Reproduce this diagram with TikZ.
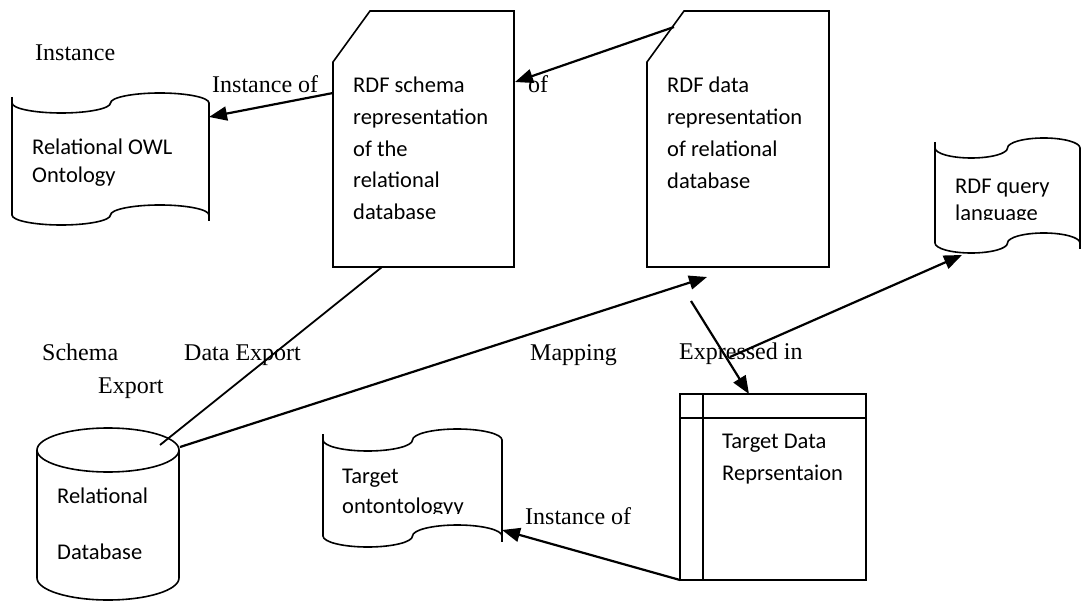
\documentclass[tikz,border=0pt]{standalone}
\usepackage{fontspec}
\setmainfont{Liberation Serif}
\newfontfamily\boxfont{Carlito}
\usetikzlibrary{arrows.meta}
\tikzset{
  shapeline/.style={line width=1.6pt, line join=miter},
  conn/.style={line width=2.2pt, -{Triangle[length=18pt,width=14pt]}},
  plainconn/.style={line width=1.8pt},
  btxt/.style={font=\boxfont\fontsize{22.5}{27}\selectfont, anchor=base west, inner sep=0pt},
  lbl/.style={font=\fontsize{24}{28}\selectfont, anchor=base west, inner sep=0pt},
}
% x0, width, top mid, bottom mid, amplitude (pixel units, y downward)
\newcommand\tapeoutline[5]{%
  \draw[shapeline] (#1,-#3)
    arc[start angle=180,end angle=360,x radius=#2/4,y radius=#5]
    arc[start angle=180,end angle=0,x radius=#2/4,y radius=#5]
    -- (#1+#2,-#4)
    arc[start angle=0,end angle=180,x radius=#2/4,y radius=#5]
    arc[start angle=0,end angle=-180,x radius=#2/4,y radius=#5]
    -- cycle;
  \draw[shapeline] (#1,-#3+6) -- (#1,-#3);
  \draw[shapeline] (#1+#2,-#4) -- (#1+#2,-#4-6);}
\begin{document}
\begin{tikzpicture}[x=1pt,y=1pt]
\useasboundingbox (0,0) rectangle (1083,-601);

% ---- shapes ----
\tapeoutline{12}{197}{103}{215}{10}      % Relational OWL Ontology
\tapeoutline{935}{145}{148}{243}{10}     % RDF query language
\tapeoutline{323}{179}{440}{536}{11}     % Target ontology
% RDF schema document
\draw[shapeline] (333,-267) -- (333,-62) -- (370,-11) -- (514,-11) -- (514,-267) -- cycle;
% RDF data document
\draw[shapeline] (647,-267) -- (647,-62) -- (684,-11) -- (829,-11) -- (829,-267) -- cycle;
% Target data representation (table)
\draw[shapeline] (680,-394) rectangle (866,-580);
\draw[shapeline] (703,-394) -- (703,-580);
\draw[shapeline] (680,-418) -- (866,-418);
% Relational database (cylinder)
\draw[shapeline] (108,-450) ellipse[x radius=71,y radius=22];
\draw[shapeline] (37,-450) -- (37,-578) arc[start angle=180,end angle=360,x radius=71,y radius=22] -- (179,-450);

% ---- texts in shapes ----
\node[btxt] (owl1) at (32,-155) {Relational OWL};
\node[btxt] (owl2) at (32,-182.5) {Ontology};

\node[btxt] (sch1) at (353,-92.7) {RDF schema};
\node[btxt] (sch2) at (353,-124.4) {representation};
\node[btxt] (sch3) at (353,-156.1) {of the};
\node[btxt] (sch4) at (353,-187.8) {relational};
\node[btxt] (sch5) at (353,-219.5) {database};

\node[btxt] (dat1) at (667,-93) {RDF data};
\node[btxt] (dat2) at (667,-124.7) {representation};
\node[btxt] (dat3) at (667,-156.4) {of relational};
\node[btxt] (dat4) at (667,-188.1) {database};

\node[btxt] (rq1) at (955,-193.3) {RDF query};
\begin{scope}
  \clip (930,-150) rectangle (1083,-219.5);
  \node[btxt] (rq2) at (955,-221) {language};
\end{scope}

\node[btxt] (to1) at (342,-483.3) {Target};
\begin{scope}
  \clip (325,-490) rectangle (500,-513.5);
  \node[btxt] (to2) at (342,-513) {ontontologyy};
\end{scope}

\node[btxt] (td1) at (722,-448.3) {Target Data};
\node[btxt] (td2) at (722,-480) {Reprsentaion};

\node[btxt] (db1) at (57,-503.3) {Relational};
\node[btxt] (db2) at (57,-559.3) {Database};

% ---- connector end points ----
\coordinate (schW) at (333,-93);
\coordinate (owlE) at (209,-117);
\coordinate (datC) at (674,-27);
\coordinate (schE) at (515,-82);
\coordinate (dbA) at (160,-445);
\coordinate (schS) at (382,-267);
\coordinate (dbB) at (180,-447);
\coordinate (datS) at (707,-277);
\coordinate (expA) at (691,-301);
\coordinate (tdN) at (749,-394);
\coordinate (expB) at (730,-357);
\coordinate (rqS) at (962,-255);
\coordinate (tdSW) at (680,-580);
\coordinate (toE) at (502,-530);

% ---- connectors ----
\draw[conn] (schW) -- (owlE);
\draw[conn] (datC) -- (schE);
\draw[plainconn] (dbA) -- (schS);
\draw[conn] (dbB) -- (datS);
\draw[conn] (expA) -- (tdN);
\draw[conn] (expB) -- (rqS);
\draw[conn] (tdSW) -- (toE);

% ---- labels ----
\node[lbl] (l1) at (35,-60.7) {Instance};
\node[lbl] (l2) at (212,-92.7) {Instance of};
\node[lbl] (l3) at (528,-92.7) {of};
\node[lbl] (l4) at (42,-360) {Schema};
\node[lbl] (l5) at (98,-393) {Export};
\node[lbl] (l6) at (184,-360) {Data Export};
\node[lbl] (l7) at (530,-360) {Mapping};
\node[lbl] (l8) at (679,-359.3) {Expressed in};
\node[lbl] (l9) at (525,-524.3) {Instance of};
\end{tikzpicture}
\end{document}
